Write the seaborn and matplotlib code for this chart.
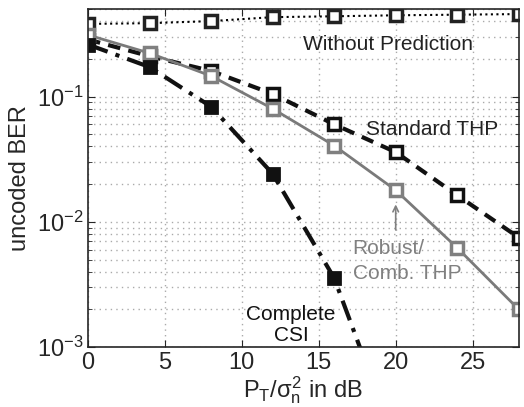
import numpy as np
import pandas as pd
import matplotlib
matplotlib.use("Agg")
import matplotlib.pyplot as plt
import seaborn as sns

# SNR points (dB)
snr = [0, 4, 8, 12, 16, 20, 24, 28]
snr_csi = [0, 4, 8, 12, 16, 20]

# uncoded BER
ber_without = [0.38, 0.385, 0.40, 0.43, 0.437, 0.445, 0.45, 0.455]
ber_standard = [0.285, 0.21, 0.16, 0.105, 0.060, 0.036, 0.0163, 0.0075]
ber_robust = [0.31, 0.222, 0.146, 0.080, 0.0406, 0.0179, 0.0062, 0.0020]
ber_csi = [0.26, 0.172, 0.083, 0.0242, 0.00356, 0.00017]

sns.set_style("ticks")
plt.rcParams['font.family'] = ['Liberation Sans', 'DejaVu Sans']
plt.rcParams['mathtext.fontset'] = 'custom'
plt.rcParams['mathtext.rm'] = 'Liberation Sans'
plt.rcParams['mathtext.it'] = 'Liberation Sans'

fig, ax = plt.subplots(figsize=(5.24, 4.07), dpi=100)
fig.subplots_adjust(left=0.168, right=0.990, top=0.978, bottom=0.147)

mk = dict(marker='s', markersize=8.5, markeredgewidth=2.5, markerfacecolor='white')

sns.lineplot(x=snr, y=ber_without, ax=ax, color='black', linestyle=':', linewidth=1.5,
             markeredgecolor='#222222', **mk)
sns.lineplot(x=snr, y=ber_standard, ax=ax, color='#111111', linestyle=(0, (3, 2)), linewidth=3,
             markeredgecolor='#111111', **mk)
sns.lineplot(x=snr, y=ber_robust, ax=ax, color='#7a7a7a', linestyle='-', linewidth=2,
             markeredgecolor='#808080', **mk)
sns.lineplot(x=snr_csi, y=ber_csi, ax=ax, color='#111111', linestyle=(0, (5, 2, 1, 2)), linewidth=3,
             marker='s', markersize=8.5, markeredgewidth=2, markerfacecolor='#111111',
             markeredgecolor='#111111')

ax.set_yscale('log')
ax.set_xlim(0, 28)
ax.set_ylim(1e-3, 0.5)
ax.set_xticks([0, 5, 10, 15, 20, 25])
ax.tick_params(which='both', direction='in', top=True, right=True, labelsize=17)
ax.tick_params(which='major', length=5)
ax.tick_params(which='minor', length=3)
ax.grid(True, which='major', axis='x', linestyle=(0, (1, 3)), color='#aaaaaa', linewidth=1)
ax.grid(True, which='both', axis='y', linestyle=(0, (1, 3)), color='#aaaaaa', linewidth=1)
for s in ax.spines.values():
    s.set_linewidth(1.2)

ax.set_xlabel(r'P$_\mathrm{T}$/$\sigma_\mathrm{n}^2$ in dB', fontsize=17, labelpad=0)
ax.set_ylabel('uncoded BER', fontsize=17)

ax.text(19.5, 0.26, 'Without Prediction', fontsize=15, ha='center', va='center', color='#222222')
ax.text(22.4, 0.055, 'Standard THP', fontsize=15, ha='center', va='center', color='#222222')
ax.text(17.2, 0.0049, 'Robust/\nComb. THP', fontsize=15, ha='left', va='center',
        color='#808080', linespacing=1.4)
ax.annotate('', xy=(20, 0.0145), xytext=(20, 0.0082),
            arrowprops=dict(arrowstyle='->', color='#808080', lw=1.2))
ax.text(13.2, 0.0015, 'Complete\nCSI', fontsize=15, ha='center', va='center',
        color='#111111', linespacing=1.1)

fig.savefig('out.png', dpi=100)
